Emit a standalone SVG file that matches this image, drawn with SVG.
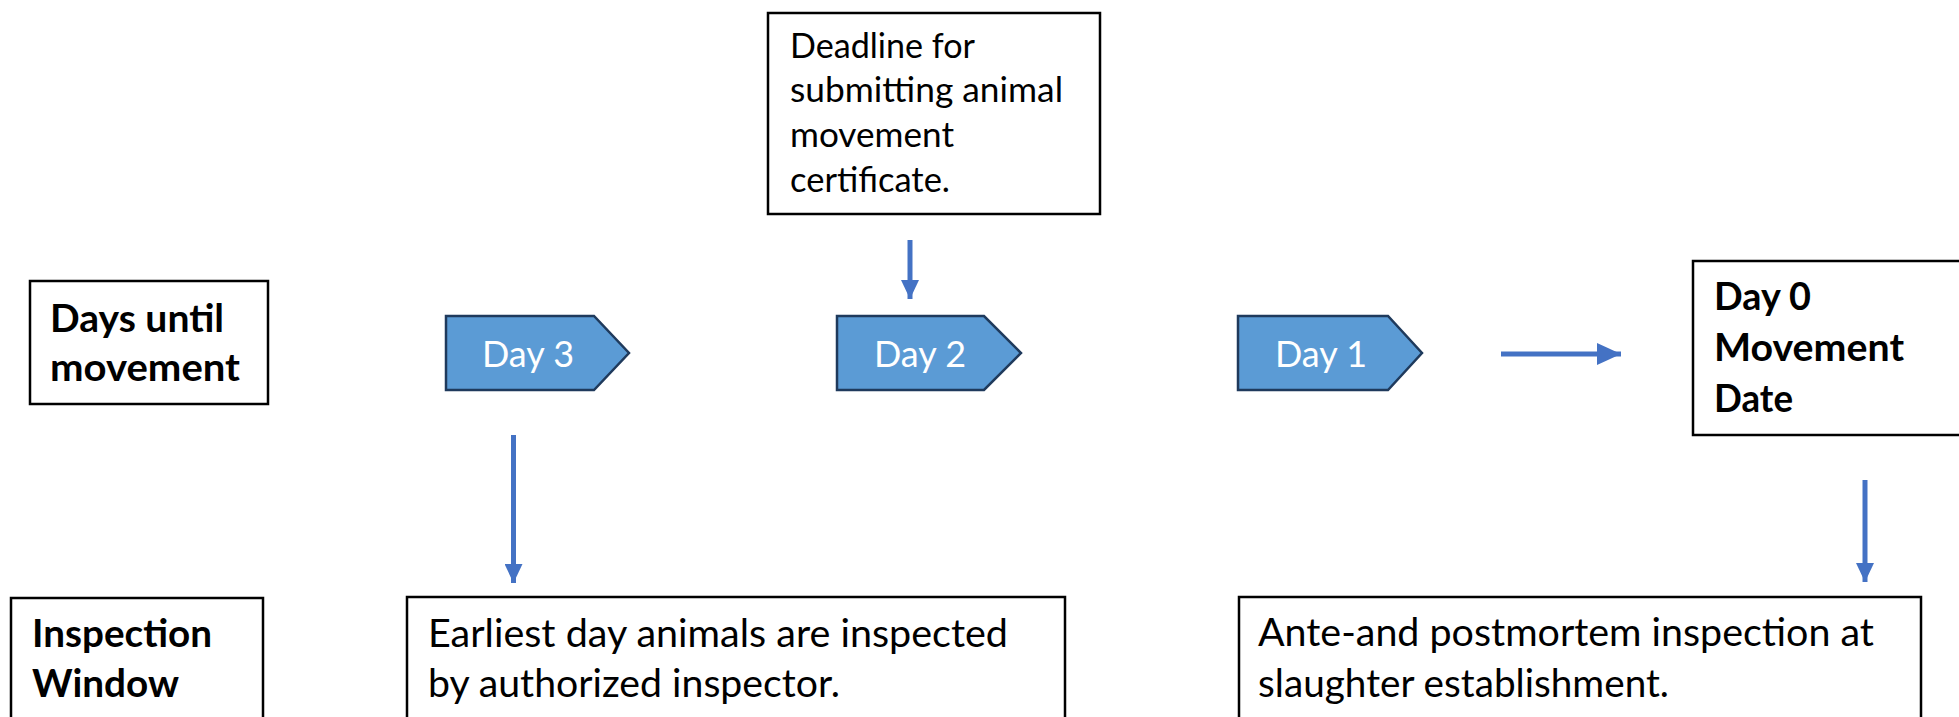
<svg xmlns="http://www.w3.org/2000/svg" width="1959" height="717" viewBox="0 0 1959 717">
<style>
.box{fill:#fff;stroke:#000;stroke-width:2.5}
.pent{fill:#5B9BD5;stroke:#1F3A5C;stroke-width:2.5}
.b{font-family:Lato,"Open Sans",sans-serif;font-weight:bold;font-size:39px;fill:#000}
.r{font-family:Lato,"Open Sans",sans-serif;font-size:39px;fill:#000}
.s{font-family:Lato,"Open Sans",sans-serif;font-size:34.5px;fill:#000}
.w{font-family:Lato,"Open Sans",sans-serif;font-size:37px;fill:#fff}
.arr{stroke:#4472C4;stroke-width:5;fill:none;marker-end:url(#ah)}
.arrh{stroke:#4472C4;stroke-width:5;fill:none;marker-end:url(#ahl)}
</style>
<defs>
<marker id="ah" viewBox="0 0 19 18" refX="19" refY="9" markerWidth="19" markerHeight="18" markerUnits="userSpaceOnUse" orient="auto">
<path d="M0,0 L19,9 L0,18 z" fill="#4472C4"/>
</marker>
<marker id="ahl" viewBox="0 0 24 22" refX="24" refY="11" markerWidth="24" markerHeight="22" markerUnits="userSpaceOnUse" orient="auto">
<path d="M0,0 L24,11 L0,22 z" fill="#4472C4"/>
</marker>
</defs>
<rect width="1959" height="717" fill="#fff"/>
<g id="days-until">
<rect class="box" x="30" y="281" width="238" height="123"/>
<text class="b" x="50" y="332" textLength="174" lengthAdjust="spacingAndGlyphs">Days until</text>
<text class="b" x="50" y="381" textLength="190" lengthAdjust="spacingAndGlyphs">movement</text>
</g>
<g id="deadline">
<rect class="box" x="768" y="13" width="332" height="201"/>
<text class="s" x="790" y="58" textLength="185" lengthAdjust="spacingAndGlyphs">Deadline for</text>
<text class="s" x="790" y="102" textLength="273" lengthAdjust="spacingAndGlyphs">submitting animal</text>
<text class="s" x="790" y="147" textLength="164" lengthAdjust="spacingAndGlyphs">movement</text>
<text class="s" x="790" y="192" textLength="160" lengthAdjust="spacingAndGlyphs">certificate.</text>
</g>
<g id="day3">
<path class="pent" d="M446,316 L594,316 L629,353 L594,390 L446,390 Z"/>
<text class="w" x="482" y="367" textLength="92" lengthAdjust="spacingAndGlyphs">Day 3</text>
</g>
<g id="day2">
<path class="pent" d="M837,316 L984,316 L1021,353 L984,390 L837,390 Z"/>
<text class="w" x="874" y="367" textLength="92" lengthAdjust="spacingAndGlyphs">Day 2</text>
</g>
<g id="day1">
<path class="pent" d="M1238,316 L1388,316 L1422,353 L1388,390 L1238,390 Z"/>
<text class="w" x="1275" y="367" textLength="92" lengthAdjust="spacingAndGlyphs">Day 1</text>
</g>
<g id="day0">
<rect class="box" x="1693" y="261" width="275" height="174"/>
<text class="b" x="1714" y="310" textLength="97" lengthAdjust="spacingAndGlyphs">Day 0</text>
<text class="b" x="1714" y="361" textLength="190" lengthAdjust="spacingAndGlyphs">Movement</text>
<text class="b" x="1714" y="412" textLength="79" lengthAdjust="spacingAndGlyphs">Date</text>
</g>
<g id="inspection-window">
<rect class="box" x="11" y="598" width="252" height="130"/>
<text class="b" x="32" y="647" textLength="180" lengthAdjust="spacingAndGlyphs">Inspection</text>
<text class="b" x="32" y="697" textLength="147" lengthAdjust="spacingAndGlyphs">Window</text>
</g>
<g id="earliest">
<rect class="box" x="407" y="597" width="658" height="131"/>
<text class="r" x="428" y="647" textLength="580" lengthAdjust="spacingAndGlyphs">Earliest day animals are inspected</text>
<text class="r" x="428" y="697" textLength="412" lengthAdjust="spacingAndGlyphs">by authorized inspector.</text>
</g>
<g id="ante-postmortem">
<rect class="box" x="1239" y="597" width="682" height="131"/>
<text class="r" x="1258" y="646" textLength="616" lengthAdjust="spacingAndGlyphs">Ante-and postmortem inspection at</text>
<text class="r" x="1258" y="697" textLength="411" lengthAdjust="spacingAndGlyphs">slaughter establishment.</text>
</g>
<g id="connectors">
<line class="arr" x1="910" y1="240" x2="910" y2="299"/>
<line class="arr" x1="513.5" y1="435" x2="513.5" y2="583"/>
<line class="arr" x1="1865" y1="480" x2="1865" y2="582"/>
<line class="arrh" x1="1501" y1="354" x2="1621" y2="354"/>
</g>
</svg>
